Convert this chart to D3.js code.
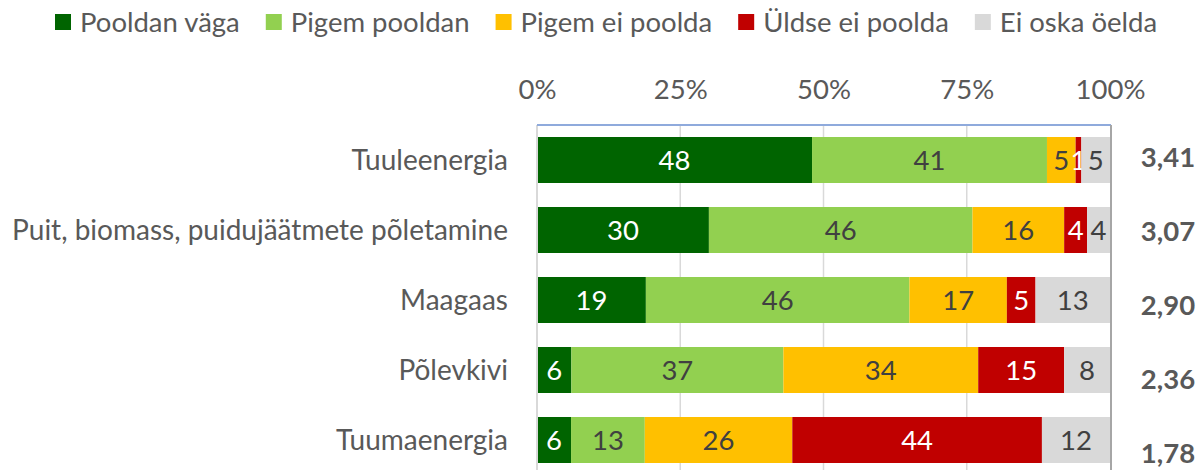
<!DOCTYPE html>
<html lang="et">
<head>
<meta charset="UTF-8">
<title>Energiaallikad</title>
<script src="https://cdn.jsdelivr.net/npm/d3@7"></script>
<style>
  body { margin: 0; background: #fff; }
  svg { display: block; font-family: Lato, "Open Sans", sans-serif; }
</style>
</head>
<body>
<svg width="1200" height="470"></svg>
<script>
const categories = ["Tuuleenergia", "Puit, biomass, puidujäätmete põletamine", "Maagaas", "Põlevkivi", "Tuumaenergia"];
const seriesNames = ["Pooldan väga", "Pigem pooldan", "Pigem ei poolda", "Üldse ei poolda", "Ei oska öelda"];
const pooldanVaga   = [48, 30, 19, 6, 6];
const pigemPooldan  = [41, 46, 46, 37, 13];
const pigemEiPoolda = [5, 16, 17, 34, 26];
const uldseEiPoolda = [1, 4, 5, 15, 44];
const eiOskaOelda   = [5, 4, 13, 8, 12];
const scores = ["3,41", "3,07", "2,90", "2,36", "1,78"];
const tickValues = [0, 0.25, 0.5, 0.75, 1];

const colors = ["#006400", "#92D050", "#FFC000", "#C00000", "#D9D9D9"];
const labelColors = ["#ffffff", "#404040", "#404040", "#ffffff", "#404040"];
const fontSize = 27.5;
const catFontSize = 28;

const seriesValues = [pooldanVaga, pigemPooldan, pigemEiPoolda, uldseEiPoolda, eiOskaOelda];
const rows = categories.map((c, i) => {
  const r = { cat: c };
  seriesNames.forEach((s, j) => r[s] = seriesValues[j][i]);
  return r;
});

// 100% stacked, like excel does it (last row sums to 101)
const stacked = d3.stack().keys(seriesNames).offset(d3.stackOffsetExpand)(rows);

const svg = d3.select("svg");
const plotLeft = 537, plotRight = 1110, plotTop = 125, plotBottom = 475;

const x = d3.scaleLinear().domain([0, 1]).range([plotLeft, plotRight]);
const y = d3.scaleBand().domain(categories).range([plotTop, plotBottom])
  .paddingInner(0.343).paddingOuter(0.1715);
const yScore = d3.scalePoint().domain(categories).range([157, 453]);

// gridlines
svg.append("g").selectAll("line")
  .data(tickValues.slice(1, -1))
  .join("line")
  .attr("x1", d => x(d)).attr("x2", d => x(d))
  .attr("y1", plotTop).attr("y2", plotBottom)
  .attr("stroke", "#D9D9D9").attr("stroke-width", 1.5);

// top axis labels
const axis = svg.append("g")
  .attr("transform", `translate(0,${plotTop - 26})`)
  .call(d3.axisTop(x).tickValues(tickValues).tickFormat(d3.format(".0%")).tickSize(0).tickPadding(0));
axis.select(".domain").remove();
axis.selectAll("text")
  .attr("font-family", "Lato, 'Open Sans', sans-serif")
  .attr("font-size", fontSize)
  .attr("fill", "#595959")
  .attr("dy", 0);

// bars
const layer = svg.append("g").selectAll("g")
  .data(stacked)
  .join("g")
  .attr("fill", (d, i) => colors[i]);

layer.selectAll("rect")
  .data(d => d)
  .join("rect")
  .attr("x", d => x(d[0]))
  .attr("y", d => y(d.data.cat))
  .attr("width", d => x(d[1]) - x(d[0]))
  .attr("height", y.bandwidth());

layer.selectAll("text")
  .data((d, i) => d.map(p => ({ p, key: d.key, i })))
  .join("text")
  .attr("x", d => (x(d.p[0]) + x(d.p[1])) / 2)
  .attr("y", d => y(d.p.data.cat) + y.bandwidth() / 2)
  .attr("dy", "0.36em")
  .attr("text-anchor", "middle")
  .attr("font-size", fontSize)
  .attr("fill", d => labelColors[d.i])
  .text(d => d.p.data[d.key]);

// plot borders
svg.append("line").attr("x1", plotLeft).attr("x2", plotLeft).attr("y1", plotTop).attr("y2", plotBottom)
  .attr("stroke", "#D9D9D9").attr("stroke-width", 2);
svg.append("line").attr("x1", plotLeft).attr("x2", plotRight + 1).attr("y1", plotTop).attr("y2", plotTop)
  .attr("stroke", "#8FAADC").attr("stroke-width", 2);
svg.append("line").attr("x1", plotRight + 1).attr("x2", plotRight + 1).attr("y1", plotTop).attr("y2", plotBottom)
  .attr("stroke", "#A6A6A6").attr("stroke-width", 2);

// category labels
svg.append("g").selectAll("text")
  .data(categories)
  .join("text")
  .attr("x", plotLeft - 29)
  .attr("y", d => y(d) + y.bandwidth() / 2)
  .attr("dy", "0.36em")
  .attr("text-anchor", "end")
  .attr("font-size", catFontSize)
  .attr("fill", "#595959")
  .text(d => d);

// mean scores
svg.append("g").selectAll("text")
  .data(categories)
  .join("text")
  .attr("x", 1168)
  .attr("y", d => yScore(d))
  .attr("dy", "0.36em")
  .attr("text-anchor", "middle")
  .attr("font-size", fontSize)
  .attr("font-weight", "bold")
  .attr("fill", "#595959")
  .text((d, i) => scores[i]);

// legend
const legend = svg.append("g").attr("transform", "translate(55,22)");
let lx = 0;
seriesNames.forEach((s, i) => {
  const g = legend.append("g").attr("transform", `translate(${lx},0)`);
  g.append("rect").attr("x", 0).attr("y", -8).attr("width", 16).attr("height", 16).attr("fill", colors[i]);
  const t = g.append("text").attr("x", 25).attr("dy", "0.36em")
    .attr("font-size", fontSize).attr("fill", "#595959").text(s);
  lx += 25 + t.node().getComputedTextLength() + 26;
});
</script>
</body>
</html>
